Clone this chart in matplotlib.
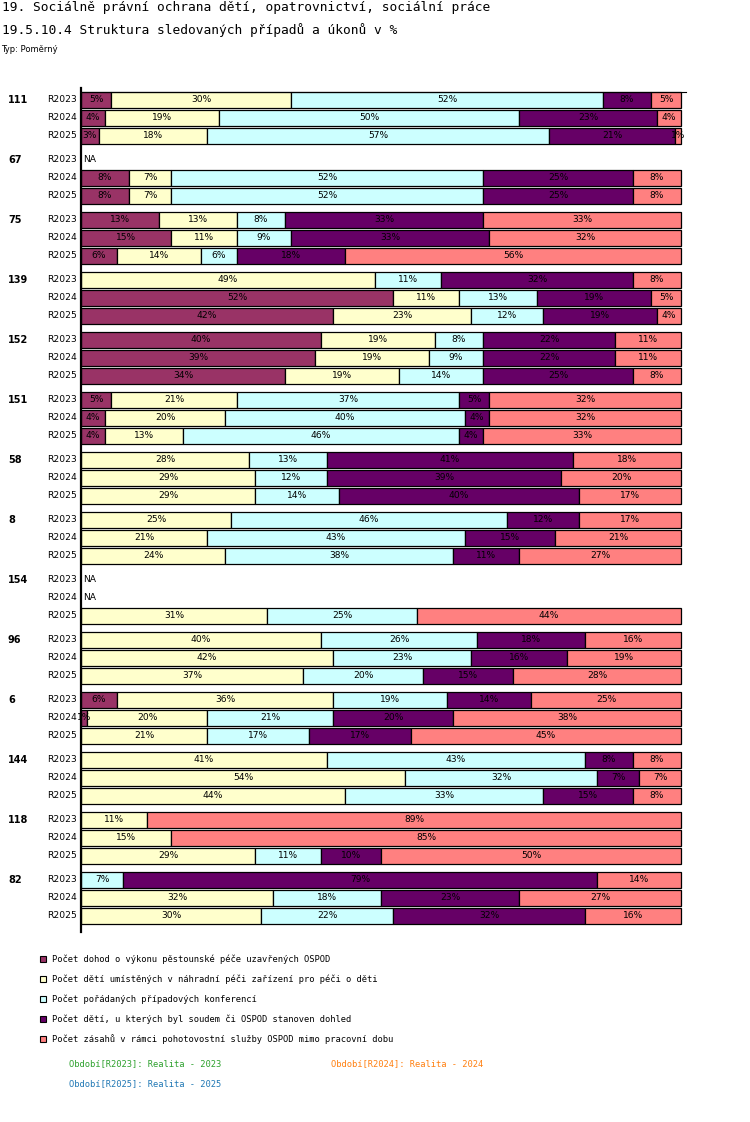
import matplotlib
matplotlib.use("Agg")
import matplotlib.pyplot as plt
from matplotlib.patches import Rectangle

# --- data ---
groups = ["111", "67", "75", "139", "152", "151", "58", "8", "154", "96", "6", "144", "118", "82"]
years = ["R2023", "R2024", "R2025"]
series_names = [
    "Počet dohod o výkonu pěstounské péče uzavřených OSPOD",
    "Počet dětí umístěných v náhradní péči zařízení pro péči o děti",
    "Počet pořádaných případových konferencí",
    "Počet dětí, u kterých byl soudem či OSPOD stanoven dohled",
    "Počet zásahů v rámci pohotovostní služby OSPOD mimo pracovní dobu",
]
colors = ["#993366", "#FFFFCC", "#CCFFFF", "#660066", "#FF8080"]

# percentages per group -> per year (None = NA)
values = {
    "111": [[5, 30, 52, 8, 5], [4, 19, 50, 23, 4], [3, 18, 57, 21, 1]],
    "67": [None, [8, 7, 52, 25, 8], [8, 7, 52, 25, 8]],
    "75": [[13, 13, 8, 33, 33], [15, 11, 9, 33, 32], [6, 14, 6, 18, 56]],
    "139": [[0, 49, 11, 32, 8], [52, 11, 13, 19, 5], [42, 23, 12, 19, 4]],
    "152": [[40, 19, 8, 22, 11], [39, 19, 9, 22, 11], [34, 19, 14, 25, 8]],
    "151": [[5, 21, 37, 5, 32], [4, 20, 40, 4, 32], [4, 13, 46, 4, 33]],
    "58": [[0, 28, 13, 41, 18], [0, 29, 12, 39, 20], [0, 29, 14, 40, 17]],
    "8": [[0, 25, 46, 12, 17], [0, 21, 43, 15, 21], [0, 24, 38, 11, 27]],
    "154": [None, None, [0, 31, 25, 0, 44]],
    "96": [[0, 40, 26, 18, 16], [0, 42, 23, 16, 19], [0, 37, 20, 15, 28]],
    "6": [[6, 36, 19, 14, 25], [1, 20, 21, 20, 38], [0, 21, 17, 17, 45]],
    "144": [[0, 41, 43, 8, 8], [0, 54, 32, 7, 7], [0, 44, 33, 15, 8]],
    "118": [[0, 11, 0, 0, 89], [0, 15, 0, 0, 85], [0, 29, 11, 10, 50]],
    "82": [[0, 0, 7, 79, 14], [0, 32, 18, 23, 27], [0, 30, 22, 32, 16]],
}
periods = [("Období[R2023]: Realita - 2023", "#2ca02c"),
           ("Období[R2024]: Realita - 2024", "#ff7f0e"),
           ("Období[R2025]: Realita - 2025", "#1f77b4")]

W, H = 750, 1122
fig = plt.figure(figsize=(W / 100, H / 100), dpi=100)
mono = "DejaVu Sans Mono"

# titles
fig.text(2 / W, 1 - 8 / H, "19. Sociálně právní ochrana dětí, opatrovnictví, sociální práce",
         family=mono, fontsize=9.3, va="center", ha="left")
fig.text(2 / W, 1 - 30 / H, "19.5.10.4 Struktura sledovaných případů a úkonů v %",
         family=mono, fontsize=9.3, va="center", ha="left")
fig.text(1 / W, 1 - 50 / H, "Typ: Poměrný", family="DejaVu Sans", fontsize=6, va="center", ha="left")

# plotting area in pixel-like data units
x0, x1 = 81, 681
ytop, ybot = 88, 932
ax = fig.add_axes([x0 / W, 1 - ybot / H, (x1 - x0) / W, (ybot - ytop) / H])
ax.set_xlim(0, 1)
ax.set_ylim(ybot, ytop)
ax.axis("off")
ax.plot([0, 0], [ytop, ybot], color="black", lw=1.6, clip_on=False)
ax.plot([0, (686 - x0) / (x1 - x0)], [92, 92], color="black", lw=0.8, clip_on=False)

row_step, group_step, bar_h = 18, 60, 15.5
fs = 6.6
for g, name in enumerate(groups):
    for r, yr in enumerate(years):
        yc = 100 + g * group_step + r * row_step
        if r == 0:
            ax.text(-73 / (x1 - x0), yc, name, fontsize=7, fontweight="bold",
                    va="center", ha="left")
        ax.text(-4 / (x1 - x0), yc, yr, fontsize=fs, va="center", ha="right")
        vals = values[name][r]
        if vals is None:
            ax.text(2 / (x1 - x0), yc, "NA", fontsize=fs, va="center", ha="left")
            continue
        total = float(sum(vals))
        left = 0.0
        for v, c in zip(vals, colors):
            w = v / total
            if v > 0:
                ax.add_patch(Rectangle((left, yc - bar_h / 2), w, bar_h,
                                       facecolor=c, edgecolor="black", lw=0.9,
                                       clip_on=False))
                ax.text(left + w / 2, yc, f"{v}%", fontsize=fs, va="center",
                        ha="center", color="black", clip_on=False)
            left += w

# legend
for i, (lab, c) in enumerate(zip(series_names, colors)):
    y = 959 + i * 20
    fig.patches.append(Rectangle((40 / W, 1 - (y + 3) / H), 6 / W, 6 / H,
                                 transform=fig.transFigure, facecolor=c,
                                 edgecolor="black", lw=0.8))
    fig.text(52 / W, 1 - y / H, lab, family=mono, fontsize=6.3, va="center", ha="left")

period_pos = [(69, 1064), (331, 1064), (69, 1084)]
for (txt, c), (px, py) in zip(periods, period_pos):
    fig.text(px / W, 1 - py / H, txt, family=mono, fontsize=6.3, color=c,
             va="center", ha="left")

fig.savefig("out.png", dpi=100)
